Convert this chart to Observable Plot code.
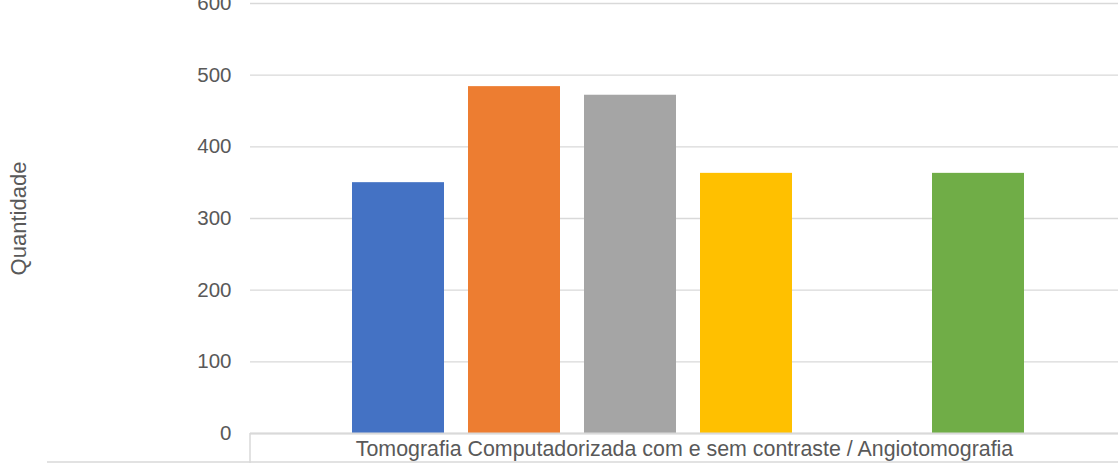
<!DOCTYPE html>
<html>
<head>
<meta charset="utf-8">
<script src="https://cdn.jsdelivr.net/npm/d3@7"></script>
<script src="https://cdn.jsdelivr.net/npm/@observablehq/plot@0.6"></script>
<style>
  html, body { margin: 0; padding: 0; background: #ffffff; }
  #chart { width: 1118px; height: 463px; }
</style>
</head>
<body>
<div id="chart"></div>
<script>
const category = "Tomografia Computadorizada com e sem contraste / Angiotomografia";
const series = ["Série 1", "Série 2", "Série 3", "Série 4", "Série 5", "Série 6"];
const values = [350, 484, 472, 363, null, 363];
const colors = ["#4472C4", "#ED7D31", "#A5A5A5", "#FFC000", "#5B9BD5", "#70AD47"];
const yTicks = [0, 100, 200, 300, 400, 500, 600];
const yLabel = "Quantidade";

const data = series.map((s, i) => ({ category, series: s, value: values[i] }));

const plot = Plot.plot({
  width: 1118,
  height: 463,
  marginLeft: 250,
  marginRight: 0,
  marginTop: 3,
  marginBottom: 30,
  style: { fontFamily: "'Liberation Sans', Arial, sans-serif", fontSize: "20px", color: "#595959", background: "#ffffff", overflow: "visible" },
  fx: { domain: [category], padding: 0 },
  x: { domain: series, paddingInner: 0.208, paddingOuter: 0.839, align: 0.518, axis: null },
  y: { domain: [0, 600] },
  color: { domain: series, range: colors },
  marks: [
    Plot.gridY(yTicks, { stroke: "#d9d9d9", strokeOpacity: 1, strokeWidth: 1.3 }),
    Plot.axisY(yTicks, { tickSize: 0, tickPadding: 19, fontSize: 20.5, label: null }),
    Plot.axisY([], { tickSize: 0, fontSize: 22, label: yLabel, labelAnchor: "center", labelArrow: "none", labelOffset: 240 }),
    Plot.axisFx({ anchor: "bottom", tickSize: 0, tickPadding: 7, fontSize: 21.4, label: null }),
    Plot.barY(data.filter(d => d.value != null), { fx: "category", x: "series", y: "value", fill: "series" }),
    Plot.ruleY([0], { stroke: "#d9d9d9", strokeWidth: 2 })
  ]
});
document.getElementById("chart").appendChild(plot);

// Category table borders below the plot frame
const svg = d3.select(plot.tagName.toLowerCase() === "svg" ? plot : plot.querySelector("svg"));
const y0 = plot.scale("y").apply(0);
svg.append("line").attr("x1", 250).attr("x2", 250).attr("y1", y0).attr("y2", 463)
  .attr("stroke", "#d9d9d9").attr("stroke-width", 1.5);
svg.append("line").attr("x1", 47).attr("x2", 1118).attr("y1", 462).attr("y2", 462)
  .attr("stroke", "#d9d9d9").attr("stroke-width", 1.5);
</script>
</body>
</html>
